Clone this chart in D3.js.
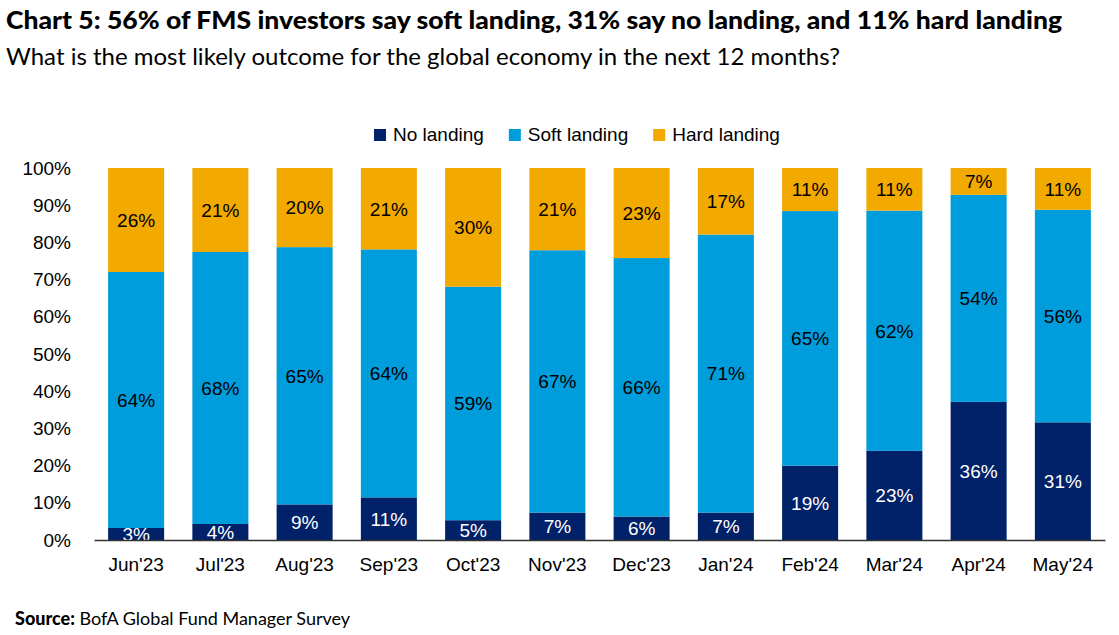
<!DOCTYPE html>
<html>
<head>
<meta charset="utf-8">
<script src="https://cdn.jsdelivr.net/npm/d3@7"></script>
<style>
  body { margin: 0; background: #fff; }
  svg { display: block; }
  text { font-family: "Liberation Sans", Arial, sans-serif; }
</style>
</head>
<body>
<div id="chart"></div>
<script>
// data
const months = ["Jun'23", "Jul'23", "Aug'23", "Sep'23", "Oct'23", "Nov'23", "Dec'23", "Jan'24", "Feb'24", "Mar'24", "Apr'24", "May'24"];
const noLanding = [3, 4, 9, 11, 5, 7, 6, 7, 19, 23, 36, 31];
const softLanding = [64, 68, 65, 64, 59, 67, 66, 71, 65, 62, 54, 56];
const hardLanding = [26, 21, 20, 21, 30, 21, 23, 17, 11, 11, 7, 11];
const seriesNames = ["No landing", "Soft landing", "Hard landing"];
const yTicks = [0, 0.1, 0.2, 0.3, 0.4, 0.5, 0.6, 0.7, 0.8, 0.9, 1];

const width = 1119;
const height = 635;
const margin = { top: 168, right: 14, bottom: 95, left: 94 };
const colors = ["#012169", "#009ddc", "#f2a900"];
const labelColors = ["#ffffff", "#000000", "#000000"];
const fs = 19;

const rows = months.map((m, i) => ({
	month: m,
	"No landing": noLanding[i],
	"Soft landing": softLanding[i],
	"Hard landing": hardLanding[i],
}));

// bars fill to 100% so normalise each month
const stacked = d3.stack().keys(seriesNames).offset(d3.stackOffsetExpand)(rows);

const x = d3
	.scaleBand()
	.domain(months)
	.range([margin.left, width - margin.right])
	.paddingInner(0.335)
	.paddingOuter(0.1675);

const y = d3
	.scaleLinear()
	.domain([0, 1])
	.range([height - margin.bottom, margin.top]);

const color = d3.scaleOrdinal().domain(seriesNames).range(colors);
const labelColor = d3.scaleOrdinal().domain(seriesNames).range(labelColors);

const svg = d3
	.select("#chart")
	.append("svg")
	.attr("width", width)
	.attr("height", height);

// title + subtitle
svg.append("text")
	.attr("x", 6)
	.attr("y", 29)
	.attr("font-weight", "900")
	.attr("font-size", 24)
	.attr("textLength", 1056)
	.attr("lengthAdjust", "spacingAndGlyphs")
	.style("font-family", "Lato, sans-serif")
	.text("Chart 5: 56% of FMS investors say soft landing, 31% say no landing, and 11% hard landing");

svg.append("text")
	.attr("x", 6)
	.attr("y", 65)
	.attr("font-size", 23)
	.attr("textLength", 834)
	.attr("lengthAdjust", "spacingAndGlyphs")
	.style("font-family", "Lato, sans-serif")
	.text("What is the most likely outcome for the global economy in the next 12 months?");

// bars
const layers = svg
	.selectAll(".layer")
	.data(stacked)
	.join("g")
	.attr("class", "layer")
	.attr("fill", (d) => color(d.key));

layers
	.selectAll("rect")
	.data((d) => d)
	.join("rect")
	.attr("x", (d) => x(d.data.month))
	.attr("y", (d) => y(d[1]))
	.attr("width", x.bandwidth())
	.attr("height", (d) => y(d[0]) - y(d[1]));

// value labels in the middle of each segment
layers
	.selectAll(".val")
	.data((d) => d.map((p) => ({ key: d.key, p: p })))
	.join("text")
	.attr("class", "val")
	.attr("x", (d) => x(d.p.data.month) + x.bandwidth() / 2)
	.attr("y", (d) => y((d.p[0] + d.p[1]) / 2))
	.attr("dy", "0.36em")
	.attr("text-anchor", "middle")
	.attr("font-size", fs)
	.attr("fill", (d) => labelColor(d.key))
	.text((d) => d.p.data[d.key] + "%");

// y axis, labels only
const yAxis = svg
	.append("g")
	.attr("transform", `translate(${margin.left},0)`)
	.call(d3.axisLeft(y).tickValues(yTicks).tickFormat(d3.format(".0%")).tickSize(0).tickPadding(23));
yAxis.select(".domain").remove();
yAxis.selectAll("text").attr("font-size", fs).attr("fill", "#000").style("font-family", "Liberation Sans, Arial, sans-serif");

// x axis
const xAxis = svg
	.append("g")
	.attr("transform", `translate(0,${height - margin.bottom})`)
	.call(d3.axisBottom(x).tickSize(0).tickPadding(18).tickSizeOuter(0));
xAxis.select(".domain").attr("stroke", "#333").attr("stroke-width", 1.5);
xAxis.selectAll("text").attr("font-size", fs).attr("fill", "#000").style("font-family", "Liberation Sans, Arial, sans-serif");

// legend
const legend = svg.append("g").attr("transform", "translate(0,141)");
let lx = 374;
seriesNames.forEach((name) => {
	legend.append("rect")
		.attr("x", lx)
		.attr("y", -12)
		.attr("width", 12)
		.attr("height", 12)
		.attr("fill", color(name));
	const t = legend.append("text")
		.attr("x", lx + 19)
		.attr("y", 0)
		.attr("font-size", fs)
		.text(name);
	lx += 19 + t.node().getComputedTextLength() + 25;
});

// source
const src = svg.append("text")
	.attr("x", 15)
	.attr("y", 625)
	.attr("font-size", 18)
	.style("font-family", "Lato, sans-serif");
src.append("tspan").attr("font-weight", "900").text("Source:");
src.append("tspan").text(" BofA Global Fund Manager Survey");
</script>
</body>
</html>
